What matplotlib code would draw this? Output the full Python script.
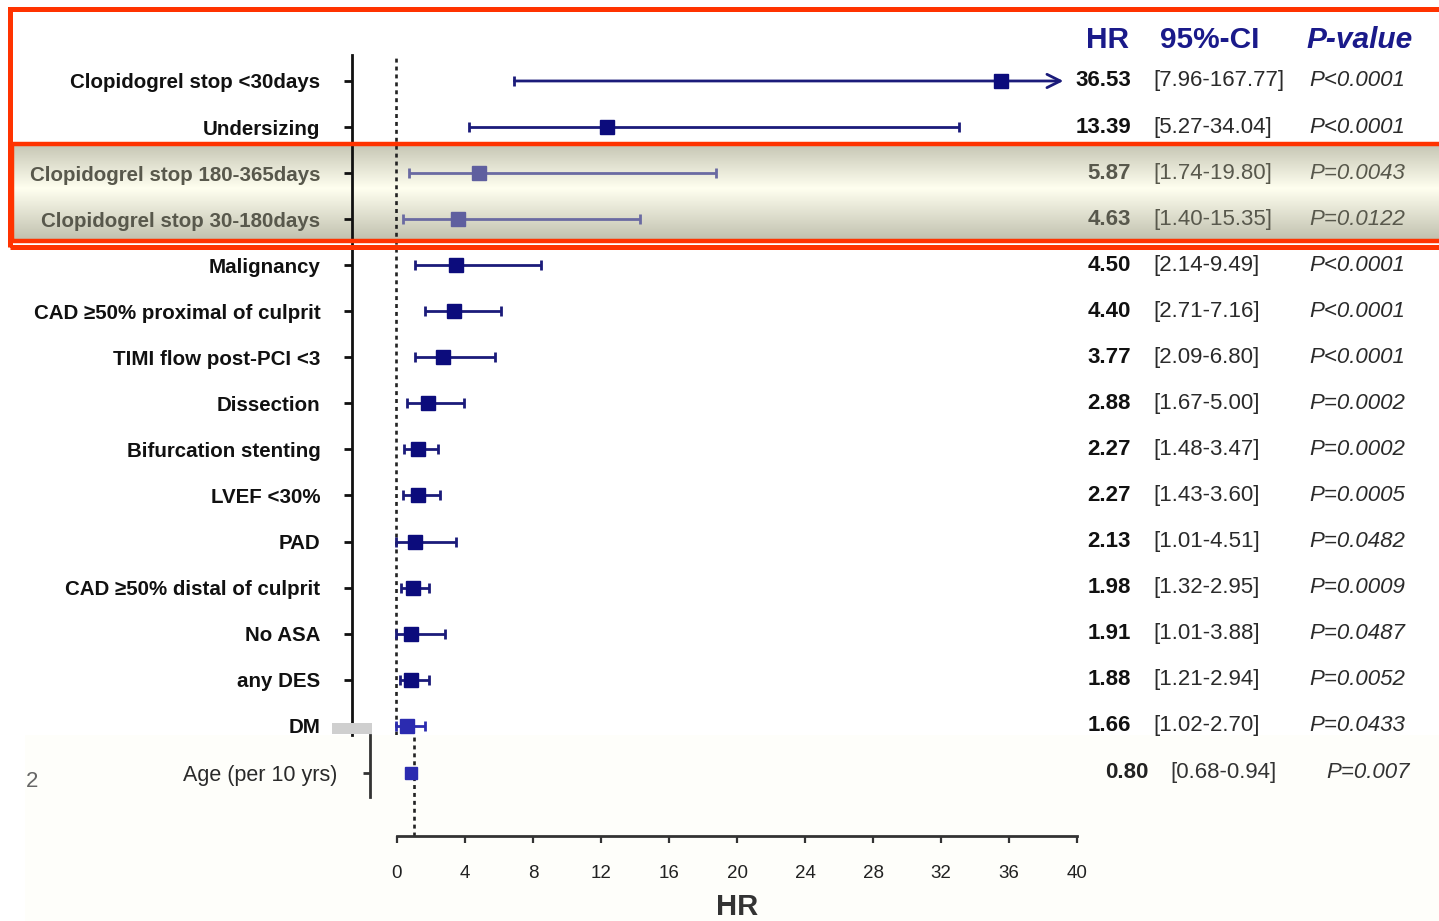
import numpy as np
import matplotlib.pyplot as plt
from matplotlib.transforms import blended_transform_factory
from matplotlib.patches import Rectangle

plt.rcParams['font.family'] = ['Liberation Sans', 'DejaVu Sans']

# ---- data ------------------------------------------------------------
labels = ['Clopidogrel stop <30days', 'Undersizing', 'Clopidogrel stop 180-365days',
          'Clopidogrel stop 30-180days', 'Malignancy', 'CAD \u226550% proximal of culprit',
          'TIMI flow post-PCI <3', 'Dissection', 'Bifurcation stenting', 'LVEF <30%',
          'PAD', 'CAD \u226550% distal of culprit', 'No ASA', 'any DES', 'DM']
hr = [36.53, 13.39, 5.87, 4.63, 4.50, 4.40, 3.77, 2.88, 2.27, 2.27, 2.13, 1.98, 1.91, 1.88, 1.66]
lo = [7.96, 5.27, 1.74, 1.40, 2.14, 2.71, 2.09, 1.67, 1.48, 1.43, 1.01, 1.32, 1.01, 1.21, 1.02]
hi = [167.77, 34.04, 19.80, 15.35, 9.49, 7.16, 6.80, 5.00, 3.47, 3.60, 4.51, 2.95, 3.88, 2.94, 2.70]
pvals = ['P<0.0001', 'P<0.0001', 'P=0.0043', 'P=0.0122', 'P<0.0001', 'P<0.0001', 'P<0.0001',
         'P=0.0002', 'P=0.0002', 'P=0.0005', 'P=0.0482', 'P=0.0009', 'P=0.0487', 'P=0.0052',
         'P=0.0433']
band_rows = [2, 3]

age_label = 'Age (per 10 yrs)'
age_hr, age_lo, age_hi = 0.80, 0.68, 0.94
age_p = 'P=0.007'

x_ticks = list(range(0, 41, 4))

# ---- colours ---------------------------------------------------------
NAVY = '#0c0c7c'
LINE = '#1b1b7a'
BAND_MK = '#5f5f9f'
BAND_LN = '#6a6aa2'
BAND_TXT = '#58584c'
BRIGHT = '#2b2bb0'
HEAD = '#1a1a8a'
RED = '#ff3300'

W, H = 1439, 921
fx = lambda px: px / W
fy = lambda py: 1 - py / H

fig = plt.figure(figsize=(W / 100, H / 100), dpi=100)

# faint cream background of the lower pasted panel
fig.add_artist(Rectangle((fx(25), 0), 1, fy(735), transform=fig.transFigure,
                         fc='#fefefa', ec='none', zorder=-1))

# shaded highlight band (vertical gradient)
bg = fig.add_axes([fx(14), fy(241), 1 - fx(14), (241 - 145) / H])
stops = np.array([0.0, 0.45, 1.0])
cols = np.array([[0.78, 0.78, 0.71], [1.0, 1.0, 0.94], [0.75, 0.75, 0.68]])
t = np.linspace(0, 1, 200)
grad = np.stack([np.interp(t, stops, cols[:, k]) for k in range(3)], axis=1)[:, None, :]
bg.imshow(grad, aspect='auto', extent=[0, 1, 0, 1])
bg.axis('off')
bg.set_zorder(0)

## ---------------------------------------------------------------------
## upper forest panel
## ---------------------------------------------------------------------
ax = fig.add_axes([fx(351.7), fy(735), (1077 - 351.7) / W, 680 / H])
ax.set_zorder(2)
ax.patch.set_visible(False)
ax.set_xlim(-1.6, 41)
ax.set_ylim(14.2, -0.564)

for i in range(len(labels)):
    if i in band_rows:
        lc, mc = BAND_LN, BAND_MK
    elif i == len(labels) - 1:
        lc, mc = BRIGHT, BRIGHT
    else:
        lc, mc = LINE, NAVY
    if hi[i] > 40.2:
        ax.annotate('', xy=(40.2, i), xytext=(lo[i], i),
                    arrowprops=dict(arrowstyle='->', color=lc, lw=2,
                                    mutation_scale=24, shrinkA=0, shrinkB=0))
        ax.plot([lo[i]], [i], marker='|', ms=7, mew=2, color=lc)
    else:
        ax.errorbar(hr[i], i, xerr=[[hr[i] - lo[i]], [hi[i] - hr[i]]], fmt='none',
                    ecolor=lc, elinewidth=2, capsize=3.6, capthick=2)
    ax.plot(hr[i], i, 's', ms=10, color=mc, zorder=4)

ax.axvline(1, color='#222222', lw=1.9, ls=(0, (1.5, 1.5)), zorder=1)

for s in ['top', 'right', 'bottom']:
    ax.spines[s].set_visible(False)
ax.spines['left'].set_linewidth(2)
ax.spines['left'].set_color('#111111')
ax.set_xticks([])
ax.set_yticks(range(len(labels)))
ax.set_yticklabels(labels, fontsize=14.8, fontweight='bold', color='#111111')
ax.tick_params(axis='y', length=6, width=2, pad=16.5, color='#111111')
for i, tl in enumerate(ax.get_yticklabels()):
    if i in band_rows:
        tl.set_color(BAND_TXT)

trans = blended_transform_factory(fig.transFigure, ax.transData)
for i in range(len(labels)):
    tc = BAND_TXT if i in band_rows else '#111111'
    ax.text(fx(1131), i, f'{hr[i]:.2f}', transform=trans, ha='right', va='center',
            fontsize=16, fontweight='bold', color=tc)
    ax.text(fx(1153), i, f'[{lo[i]:.2f}-{hi[i]:.2f}]', transform=trans, ha='left',
            va='center', fontsize=16, color=BAND_TXT if i in band_rows else '#2a2a2a')
    ax.text(fx(1309), i, pvals[i], transform=trans, ha='left', va='center',
            fontsize=16, style='italic', color=BAND_TXT if i in band_rows else '#2a2a2a')

# column headers
fig.text(fx(1108), fy(40), 'HR', ha='center', va='center', fontsize=21.5,
         fontweight='bold', color=HEAD)
fig.text(fx(1210), fy(40), '95%-CI', ha='center', va='center', fontsize=21.5,
         fontweight='bold', color=HEAD)
fig.text(fx(1360), fy(40), 'P-value', ha='center', va='center', fontsize=21.5,
         fontweight='bold', style='italic', color=HEAD)

## ---------------------------------------------------------------------
## lower panel (Age row + x axis)
## ---------------------------------------------------------------------
ax2 = fig.add_axes([fx(369.8), fy(836), (1085.5 - 369.8) / W, 101 / H])
ax2.set_zorder(3)
ax2.patch.set_visible(False)
ax2.set_xlim(-1.6, 40.5)
ax2.set_ylim(1.37, -0.82)

ax2.errorbar(age_hr, 0, xerr=[[age_hr - age_lo], [age_hi - age_hr]], fmt='none',
             ecolor=BRIGHT, elinewidth=2, capsize=3, capthick=2)
ax2.plot(age_hr, 0, 's', ms=8.5, color=BRIGHT, zorder=4)
ax2.axvline(1, color='#222222', lw=1.9, ls=(0, (1.5, 1.5)), zorder=1)

for s in ['top', 'right']:
    ax2.spines[s].set_visible(False)
ax2.spines['bottom'].set_bounds(0, 40)
ax2.spines['left'].set_bounds(-0.82, 0.52)
for s in ['bottom', 'left']:
    ax2.spines[s].set_linewidth(2)
    ax2.spines[s].set_color('#333333')
ax2.set_yticks([0])
ax2.set_yticklabels([age_label], fontsize=15.5, color='#2a2a2a')
ax2.tick_params(axis='y', length=5, width=2, pad=18, color='#333333')
ax2.set_xticks(x_ticks)
ax2.set_xticklabels([str(v) for v in x_ticks], fontsize=13.5, color='#222222')
ax2.tick_params(axis='x', length=5, width=1.6, pad=16, color='#333333')
ax2.text(20, fy(907), 'HR', transform=blended_transform_factory(ax2.transData, fig.transFigure),
         ha='center', va='center', fontsize=21, fontweight='bold', color='#333333')

trans2 = blended_transform_factory(fig.transFigure, ax2.transData)
ax2.text(fx(1148), 0, f'{age_hr:.2f}', transform=trans2, ha='right', va='center',
         fontsize=16, fontweight='bold', color='#222222')
ax2.text(fx(1170), 0, f'[{age_lo:.2f}-{age_hi:.2f}]', transform=trans2, ha='left',
         va='center', fontsize=16, color='#333333')
ax2.text(fx(1410), 0, age_p, transform=trans2, ha='right', va='center',
         fontsize=16, style='italic', color='#333333')

# small artefacts of the pasted panel
fig.add_artist(Rectangle((fx(332), fy(734)), 40 / W, 11 / H, transform=fig.transFigure,
                         fc='#cfcfcf', ec='none', zorder=4))
fig.text(fx(32), fy(781), '2', ha='center', va='center', fontsize=16, color='#666666')

# red highlight boxes
fig.add_artist(Rectangle((fx(10), fy(247)), 1.0, (247 - 9) / H, transform=fig.transFigure,
                         fill=False, ec=RED, lw=3.6, zorder=10))
fig.add_artist(Rectangle((fx(12), fy(241)), 1.0, (241 - 144) / H, transform=fig.transFigure,
                         fill=False, ec=RED, lw=3.2, zorder=10))

fig.savefig('out.png', dpi=100)
